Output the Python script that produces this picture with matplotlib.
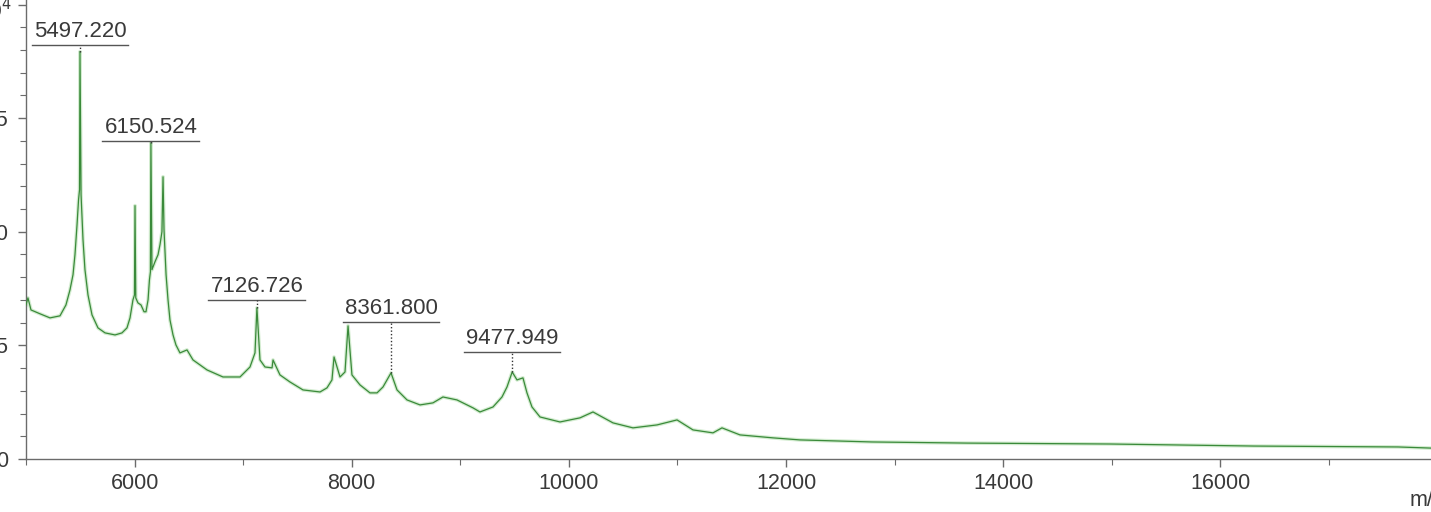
import matplotlib
matplotlib.use("Agg")
import matplotlib.pyplot as plt
from matplotlib.ticker import MultipleLocator

plt.rcParams["font.family"] = ["Liberation Sans", "DejaVu Sans"]

# traced spectrum: m/z and intensity (x10^4 counts)
mz = [
    5000, 5018, 5046, 5129, 5221, 5313, 5368, 5405, 5433, 5451, 5470, 5484,
    5493, 5497.220, 5507, 5525, 5543, 5571, 5608, 5663, 5728, 5820, 5884,
    5930, 5958, 5985, 5999, 6004, 6011, 6031, 6059, 6087, 6105, 6124, 6137,
    6146, 6150.524, 6160, 6188, 6216, 6234, 6252, 6262, 6271, 6290, 6308,
    6326, 6354, 6381, 6418, 6483, 6538, 6667, 6814, 6971, 7063, 7109,
    7126.726, 7155, 7201, 7266, 7275, 7339, 7431, 7551, 7708, 7772, 7818,
    7837, 7892, 7938, 7966, 8002, 8076, 8168, 8233, 8288, 8361.800, 8417,
    8509, 8629, 8748, 8840, 8969, 9117, 9181, 9301, 9384, 9430, 9477.949,
    9522, 9577, 9614, 9660, 9734, 9918, 10102, 10222, 10406, 10590, 10812,
    10996, 11143, 11327, 11410, 11576, 11880, 12128, 12791, 13667, 14984,
    16309, 17636, 17940,
]
intensity = [
    0.678, 0.709, 0.656, 0.639, 0.621, 0.630, 0.678, 0.744, 0.811, 0.899,
    1.031, 1.141, 1.185, 1.793, 1.163, 0.965, 0.833, 0.722, 0.634, 0.577,
    0.555, 0.546, 0.555, 0.577, 0.621, 0.700, 0.722, 1.115, 0.709, 0.687,
    0.678, 0.648, 0.648, 0.700, 0.789, 0.824, 1.392, 0.833, 0.868, 0.899,
    0.943, 1.000, 1.242, 1.009, 0.811, 0.700, 0.612, 0.546, 0.502, 0.467,
    0.480, 0.436, 0.392, 0.361, 0.361, 0.405, 0.467, 0.665, 0.436, 0.405,
    0.401, 0.436, 0.370, 0.339, 0.304, 0.295, 0.313, 0.348, 0.449, 0.361,
    0.383, 0.586, 0.370, 0.326, 0.291, 0.291, 0.317, 0.379, 0.304, 0.260,
    0.238, 0.247, 0.273, 0.260, 0.225, 0.207, 0.229, 0.273, 0.317, 0.383,
    0.348, 0.357, 0.291, 0.229, 0.185, 0.163, 0.181, 0.207, 0.159, 0.137,
    0.150, 0.172, 0.128, 0.115, 0.137, 0.106, 0.093, 0.084, 0.075, 0.070,
    0.066, 0.057, 0.053, 0.048,
]

# annotated peaks
peak_mz = [5497.220, 6150.524, 7126.726, 8361.800, 9477.949]
peak_height = [1.793, 1.392, 0.665, 0.379, 0.383]
label_y = [1.822, 1.400, 0.700, 0.605, 0.470]

AXIS_GREY = "#6b6b6b"
TEXT_GREY = "#3a3a3a"

fig = plt.figure(figsize=(14.31, 5.12), dpi=100)
ax = fig.add_axes([26 / 1431, 53 / 512, 1 - 26 / 1431, 459 / 512])

ax.plot(mz, intensity, color="#d3ecd0", linewidth=2.6, zorder=2)
ax.plot(mz, intensity, color="#3a8a3a", linewidth=0.9, zorder=3)

ax.set_xlim(5000, 17940)
ax.set_ylim(0, 2.02)

ax.xaxis.set_major_locator(MultipleLocator(2000))
ax.xaxis.set_minor_locator(MultipleLocator(1000))
ax.set_yticks([0, 0.5, 1.0, 1.5, 2.0])
ax.set_yticklabels(["0", "0.5", "1.0", "1.5", ""])
ax.yaxis.set_minor_locator(MultipleLocator(0.1))

for side in ("top", "right"):
    ax.spines[side].set_visible(False)
for side in ("left", "bottom"):
    ax.spines[side].set_color(AXIS_GREY)
    ax.spines[side].set_linewidth(1.0)

ax.tick_params(axis="both", which="major", length=6, width=1.0,
               color=AXIS_GREY, labelsize=15.5, labelcolor=TEXT_GREY)
ax.tick_params(axis="both", which="minor", length=4, width=0.8,
               color=AXIS_GREY)
ax.tick_params(axis="x", which="major", pad=4)
ax.tick_params(axis="y", which="major", pad=7)

fig.text(12 / 1431, 1 - 10 / 512, "×10$^4$", ha="right", va="center",
         fontsize=15, color=TEXT_GREY)
fig.text(1410 / 1431, 1 - 501 / 512, "m/z", ha="left", va="center",
         fontsize=15.5, color=TEXT_GREY)

# peak labels with underline and leader line
texts = []
for pm, ly in zip(peak_mz, label_y):
    t = ax.annotate(f"{pm:.3f}", xy=(pm, ly), xytext=(0, 2),
                    textcoords="offset points", ha="center", va="bottom",
                    fontsize=16, color=TEXT_GREY, zorder=5)
    texts.append(t)

fig.canvas.draw()
inv = ax.transData.inverted()
for t, pm, ph, ly in zip(texts, peak_mz, peak_height, label_y):
    bb = t.get_window_extent()
    x0, _ = inv.transform((bb.x0 - 2, 0))
    x1, _ = inv.transform((bb.x1 + 2, 0))
    ax.plot([x0, x1], [ly, ly], color="#555555", linewidth=1.0, zorder=4,
            clip_on=False)
    if ly > ph:
        ax.plot([pm, pm], [ph, ly], color="#333333", linewidth=1.0,
                linestyle=(0, (1, 1.5)), zorder=4)

fig.savefig("out.png", dpi=100, facecolor="white")
